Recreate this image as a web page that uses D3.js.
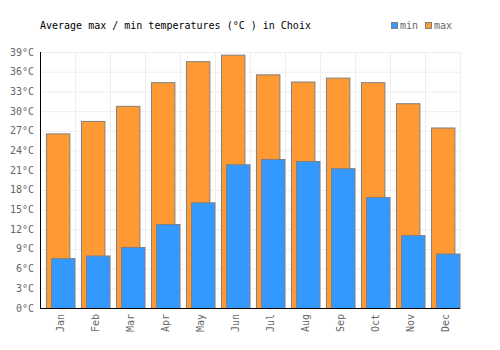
<!DOCTYPE html>
<html>
<head>
<meta charset="utf-8">
<script src="https://cdn.jsdelivr.net/npm/d3@7"></script>
<style>
  body { margin: 0; background: #fff; }
  text { font-family: 'DejaVu Sans Mono', monospace; }
</style>
</head>
<body>
<div id="chart"></div>
<script>
const months = ['Jan', 'Feb', 'Mar', 'Apr', 'May', 'Jun', 'Jul', 'Aug', 'Sep', 'Oct', 'Nov', 'Dec'];
const maxTemps = [26.6, 28.5, 30.8, 34.4, 37.6, 38.6, 35.6, 34.5, 35.1, 34.4, 31.2, 27.5];
const minTemps = [7.6, 8.0, 9.3, 12.8, 16.1, 21.9, 22.7, 22.4, 21.3, 16.9, 11.1, 8.3];
const yTicks = [0, 3, 6, 9, 12, 15, 18, 21, 24, 27, 30, 33, 36, 39];

const width = 500, height = 350;
const margin = { top: 52, right: 40, bottom: 42, left: 40 };
const innerW = width - margin.left - margin.right;
const innerH = height - margin.top - margin.bottom;

const svg = d3.select('#chart').append('svg')
    .attr('width', width)
    .attr('height', height);

const g = svg.append('g')
    .attr('transform', `translate(${margin.left}, ${margin.top})`);

const x = d3.scaleBand()
    .domain(months)
    .range([0, innerW]);

const y = d3.scaleLinear()
    .domain([0, 39])
    .range([innerH, 0]);

// grid
g.append('g')
    .selectAll('line')
    .data(yTicks)
    .join('line')
    .attr('x1', 0).attr('x2', innerW)
    .attr('y1', d => y(d) + 0.5).attr('y2', d => y(d) + 0.5)
    .attr('stroke', '#eeeeee');

g.append('g')
    .selectAll('line')
    .data(months)
    .join('line')
    .attr('x1', d => x(d) + x.bandwidth() + 0.5).attr('x2', d => x(d) + x.bandwidth() + 0.5)
    .attr('y1', 0).attr('y2', innerH)
    .attr('stroke', '#eeeeee');

const bw = x.bandwidth();
const barW = bw * 0.67;

// max bars
g.append('g')
    .selectAll('rect')
    .data(maxTemps)
    .join('rect')
    .attr('x', (d, i) => x(months[i]) + bw * 0.17 + 0.5)
    .attr('y', d => y(d) + 0.5)
    .attr('width', barW)
    .attr('height', d => innerH - y(d))
    .attr('fill', '#ff9933')
    .attr('stroke', '#808080')
    .attr('stroke-width', 1);

// min bars
g.append('g')
    .selectAll('rect')
    .data(minTemps)
    .join('rect')
    .attr('x', (d, i) => x(months[i]) + bw * 0.315 + 0.5)
    .attr('y', d => y(d) + 0.5)
    .attr('width', barW)
    .attr('height', d => innerH - y(d))
    .attr('fill', '#3399ff')
    .attr('stroke', '#808080')
    .attr('stroke-width', 1);

// axes
g.append('line')
    .attr('x1', 0.5).attr('x2', 0.5)
    .attr('y1', 0).attr('y2', innerH)
    .attr('stroke', '#000');
g.append('line')
    .attr('x1', 0).attr('x2', innerW)
    .attr('y1', innerH + 0.5).attr('y2', innerH + 0.5)
    .attr('stroke', '#000');

// y labels
g.append('g')
    .selectAll('text')
    .data(yTicks)
    .join('text')
    .attr('x', -6)
    .attr('y', d => y(d))
    .attr('dy', '0.35em')
    .attr('text-anchor', 'end')
    .attr('font-size', '10px')
    .attr('fill', '#666')
    .text(d => d + '°C');

// x labels
g.append('g')
    .selectAll('text')
    .data(months)
    .join('text')
    .attr('transform', d => `translate(${x(d) + bw / 2 + 3}, ${innerH + 6}) rotate(-90)`)
    .attr('text-anchor', 'end')
    .attr('dy', '0.35em')
    .attr('font-size', '10px')
    .attr('fill', '#666')
    .text(d => d);

// title
svg.append('text')
    .attr('x', 40)
    .attr('y', 29)
    .attr('font-size', '10px')
    .attr('fill', '#000')
    .text('Average max / min temperatures (°C ) in Choix');

// legend
const legend = svg.append('g').attr('transform', 'translate(391, 22)');
const legendItems = [{ label: 'min', color: '#3399ff' }, { label: 'max', color: '#ff9933' }];
legendItems.forEach((item, i) => {
    const lg = legend.append('g').attr('transform', `translate(${i * 34}, 0)`);
    lg.append('rect')
        .attr('x', 0.5).attr('y', 0.5)
        .attr('width', 6).attr('height', 6)
        .attr('fill', item.color)
        .attr('stroke', '#808080');
    lg.append('text')
        .attr('x', 9)
        .attr('y', 7)
        .attr('font-size', '10px')
        .attr('fill', '#666')
        .text(item.label);
});
</script>
</body>
</html>
